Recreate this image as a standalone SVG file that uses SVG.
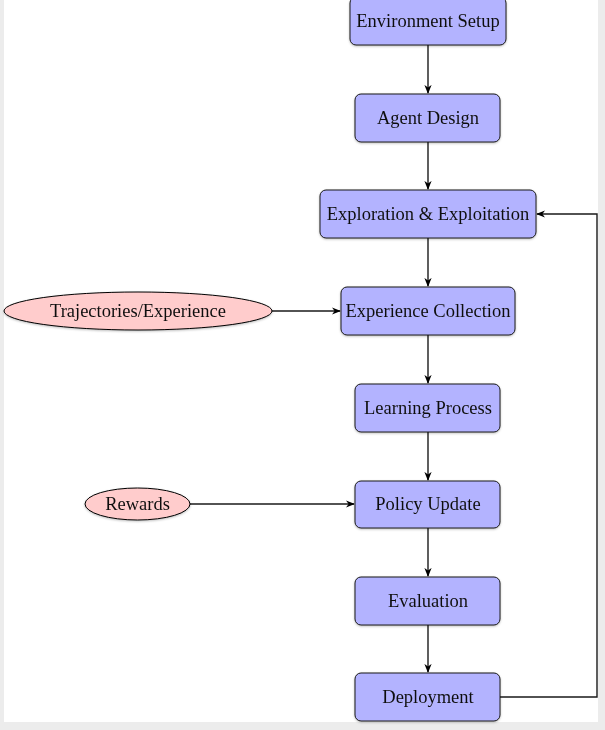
<svg xmlns="http://www.w3.org/2000/svg" width="605" height="730" viewBox="0 0 605 730">
<defs>
<marker id="arr" viewBox="0 0 10 10" refX="9" refY="5" markerWidth="9" markerHeight="9" markerUnits="userSpaceOnUse" orient="auto">
<path d="M0,1 L10,5 L0,9 L3,5 Z" fill="#000"/>
</marker>
<filter id="sh" x="-0.1" y="-0.1" width="1.2" height="1.3"><feDropShadow dx="0" dy="1" stdDeviation="0.8" flood-color="#000" flood-opacity="0.25"/></filter>
</defs>
<style>
.box{fill:#b3b3ff;stroke:#1a1a1a;stroke-width:1}
.ell{fill:#ffcccc;stroke:#000;stroke-width:1}
.t{font-family:"Liberation Serif","DejaVu Serif",serif;font-size:18.5px;fill:#111;text-anchor:middle;dominant-baseline:central}
.c{fill:none;stroke:#1a1a1a;stroke-width:1.4}
</style>
<rect x="0" y="0" width="605" height="730" fill="#ececec"/>
<rect x="4" y="0" width="594" height="722" fill="#ffffff"/>
<g id="connectors">
<path class="c" d="M428,45 V93" marker-end="url(#arr)"/>
<path class="c" d="M428,142 V189" marker-end="url(#arr)"/>
<path class="c" d="M428,238 V286" marker-end="url(#arr)"/>
<path class="c" d="M428,335 V383" marker-end="url(#arr)"/>
<path class="c" d="M428,432 V480" marker-end="url(#arr)"/>
<path class="c" d="M428,528 V576" marker-end="url(#arr)"/>
<path class="c" d="M428,625 V672" marker-end="url(#arr)"/>
<path class="c" d="M272,311 H340" marker-end="url(#arr)"/>
<path class="c" d="M190,504 H354" marker-end="url(#arr)"/>
<path class="c" d="M500,697 H597 V214 H537" marker-end="url(#arr)"/>
</g>
<g id="n1" filter="url(#sh)"><rect class="box" x="350" y="-3" width="156" height="48" rx="6"/><text class="t" x="428" y="21">Environment Setup</text></g>
<g id="n2" filter="url(#sh)"><rect class="box" x="355" y="94" width="145" height="48" rx="6"/><text class="t" x="428" y="118">Agent Design</text></g>
<g id="n3" filter="url(#sh)"><rect class="box" x="320" y="190" width="216" height="48" rx="6"/><text class="t" x="428" y="214">Exploration &amp; Exploitation</text></g>
<g id="n4" filter="url(#sh)"><rect class="box" x="341" y="287" width="174" height="48" rx="6"/><text class="t" x="428" y="311">Experience Collection</text></g>
<g id="n5" filter="url(#sh)"><rect class="box" x="355" y="384" width="145" height="48" rx="6"/><text class="t" x="428" y="408">Learning Process</text></g>
<g id="n6" filter="url(#sh)"><rect class="box" x="355" y="481" width="145" height="47" rx="6"/><text class="t" x="428" y="504">Policy Update</text></g>
<g id="n7" filter="url(#sh)"><rect class="box" x="355" y="577" width="145" height="48" rx="6"/><text class="t" x="428" y="601">Evaluation</text></g>
<g id="n8" filter="url(#sh)"><rect class="box" x="355" y="673" width="145" height="48" rx="6"/><text class="t" x="428" y="697">Deployment</text></g>
<g id="e1" filter="url(#sh)"><ellipse class="ell" cx="138" cy="311" rx="134" ry="19"/><text class="t" x="138" y="311">Trajectories/Experience</text></g>
<g id="e2" filter="url(#sh)"><ellipse class="ell" cx="137.5" cy="504" rx="52.5" ry="16"/><text class="t" x="137.5" y="504">Rewards</text></g>
</svg>
